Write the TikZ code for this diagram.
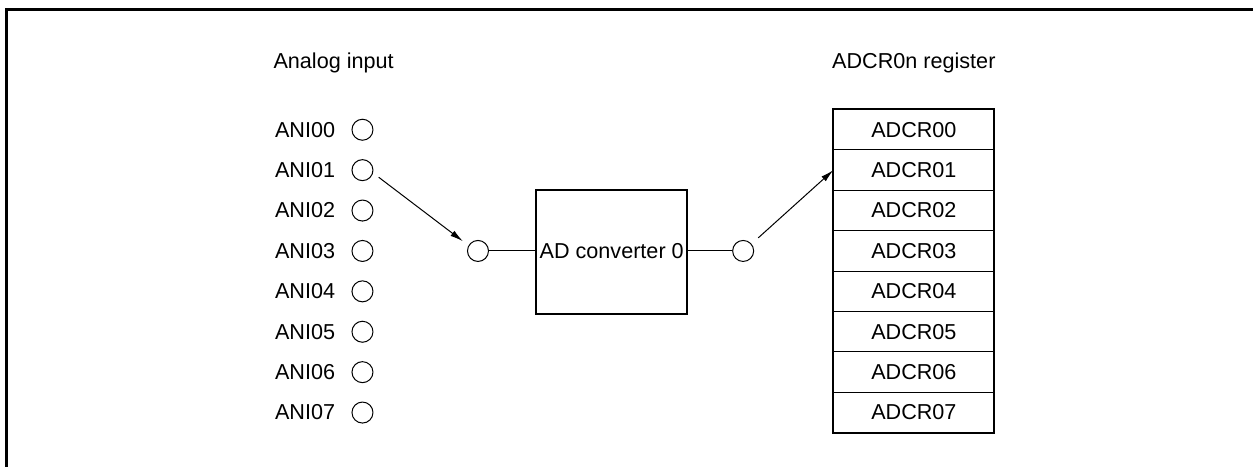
\documentclass[tikz,border=0pt]{standalone}
\usepackage{fontspec}
\setmainfont{Liberation Sans}
\usetikzlibrary{arrows.meta,positioning}

\begin{document}
\begin{tikzpicture}[
  font=\fontsize{10.8}{13}\selectfont,
  pin/.style={circle, draw=black, line width=0.5pt, minimum size=10.5pt, inner sep=0pt},
  lbl/.style={inner sep=0pt},
  title/.style={inner sep=0pt, anchor=base},
  adc/.style={draw=black, line width=1pt, minimum width=75.5pt, minimum height=62pt, inner sep=1pt},
  cell/.style={draw=black, line width=0.5pt, minimum width=80pt, minimum height=20.2pt, inner sep=0pt},
  wire/.style={line width=0.5pt},
  sel/.style={line width=0.5pt, -{Latex[length=6.5pt, width=3.2pt]}},
  frame/.style={line width=1.4pt, line join=miter}
]
\useasboundingbox (0,0) rectangle (22.02,-8.19);

% === Outer frame (right and bottom edges are cut off) ===
\draw[frame] (0.11,-8.3) -- (0.11,-0.17) -- (22.2,-0.17);

% === Analog input pins ===
\node[title, anchor=base west] (Tin) at (4.80,-1.21) {Analog input};

\node[pin] (A0) at (6.37,-2.28) {};
\node[pin] (A1) at (6.37,-2.99) {};
\node[pin] (A2) at (6.37,-3.70) {};
\node[pin] (A3) at (6.37,-4.41) {};
\node[pin] (A4) at (6.37,-5.12) {};
\node[pin] (A5) at (6.37,-5.83) {};
\node[pin] (A6) at (6.37,-6.54) {};
\node[pin] (A7) at (6.37,-7.25) {};

\node[lbl, left=8pt of A0] (L0) {ANI00};
\node[lbl, left=8pt of A1] (L1) {ANI01};
\node[lbl, left=8pt of A2] (L2) {ANI02};
\node[lbl, left=8pt of A3] (L3) {ANI03};
\node[lbl, left=8pt of A4] (L4) {ANI04};
\node[lbl, left=8pt of A5] (L5) {ANI05};
\node[lbl, left=8pt of A6] (L6) {ANI06};
\node[lbl, left=8pt of A7] (L7) {ANI07};

% === Selector and converter ===
\node[pin] (Min) at (8.40,-4.41) {};
\node[adc] (ADC) at (10.75,-4.42) {AD converter 0};
\node[pin] (Mout) at (13.06,-4.41) {};

\draw[wire] (Min) -- (Min -| ADC.west);
\draw[wire] (Mout -| ADC.east) -- (Mout);

% Selected channel ANI01
\draw[sel, shorten <=3.5pt, shorten >=3.5pt] (A1.-15) -- (Min.150);

% === ADCR0n register ===
\node[title] (Treg) at (16.06,-1.21) {ADCR0n register};

\node[cell] (R0) at (16.06,-2.28) {ADCR00};
\node[cell] (R1) at (16.06,-2.99) {ADCR01};
\node[cell] (R2) at (16.06,-3.70) {ADCR02};
\node[cell] (R3) at (16.06,-4.41) {ADCR03};
\node[cell] (R4) at (16.06,-5.12) {ADCR04};
\node[cell] (R5) at (16.06,-5.83) {ADCR05};
\node[cell] (R6) at (16.06,-6.54) {ADCR06};
\node[cell] (R7) at (16.06,-7.25) {ADCR07};

\draw[line width=1pt] (R0.north west) rectangle (R7.south east);

% Result stored in ADCR01
\draw[sel, shorten <=4.5pt] (Mout.40) -- (R1.west);

\end{tikzpicture}
\end{document}
